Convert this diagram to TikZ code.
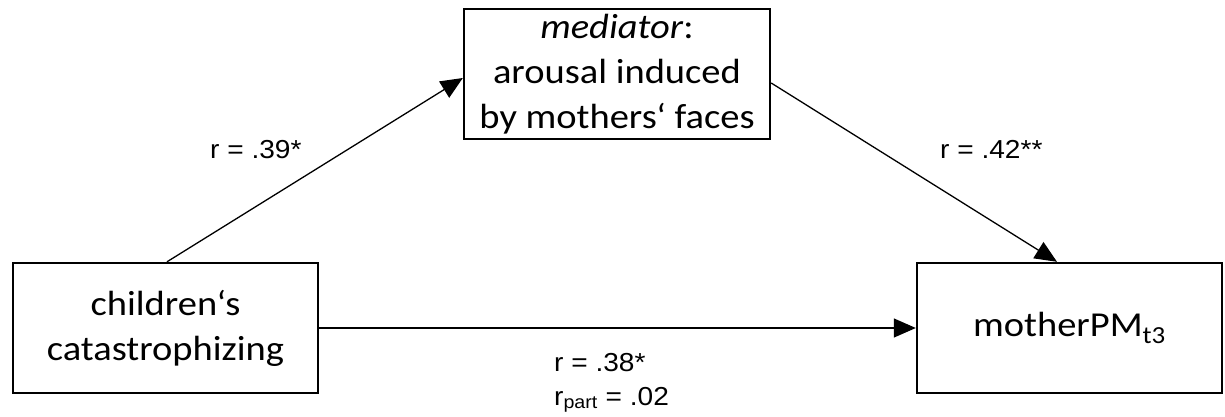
\documentclass[tikz,border=0pt]{standalone}
\usepackage{fontspec}
\setmainfont[FakeStretch=1.1]{Carlito}
\newfontfamily\lblfont[FakeStretch=1.08]{Liberation Sans}
\usetikzlibrary{arrows.meta}
\begin{document}
\begin{tikzpicture}[x=1pt,y=-1pt,
  box/.style={draw,line width=2.4pt,align=center,inner sep=0pt,
    font=\fontsize{35}{45}\selectfont},
  arr/.style={line width=1.3pt,-{Triangle[length=22pt,width=19pt]}},
  lbl/.style={font=\lblfont\fontsize{26}{34}\selectfont,inner sep=0pt,align=left,anchor=base west}]
\useasboundingbox (0,0) rectangle (1225,417);
\node[box,minimum width=305pt,minimum height=130pt] (cat) at (165.5,328) {children‘s\\catastrophizing};
\node[box,minimum width=306pt,minimum height=130pt] (med) at (617,74) {\textit{mediator}:\\arousal induced\\by mothers‘ faces};
\node[box,minimum width=305pt,minimum height=130pt] (out) at (1069.5,328) {motherPM\textsubscript{t3}};
\draw[arr] ([xshift=1.5pt]cat.north) -- ([yshift=-4pt]med.west);
\draw[arr] ([yshift=-9pt]med.east) -- ([xshift=-12.5pt]out.north);
\draw[arr] (cat.east) -- (out.west);
\node[lbl] (l1) at (210,158) {r = .39*};
\node[lbl] (l2) at (940,158) {r = .42**};
\node[lbl] (l3) at (554,371) {r = .38*};
\node[lbl] (l4) at (554,405) {r\textsubscript{part} = .02};
\end{tikzpicture}
\end{document}
